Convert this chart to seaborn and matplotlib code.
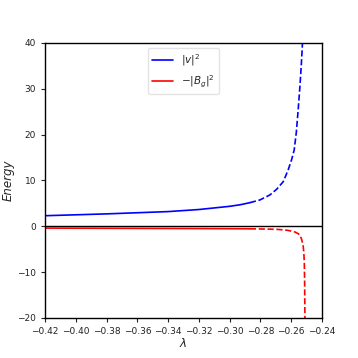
import matplotlib
matplotlib.use("Agg")
import matplotlib.pyplot as plt
import seaborn as sns

sns.set_style("white")
plt.rcParams['font.family'] = ['DejaVu Sans']

# |v|^2 (blue), solid branch then dashed branch
v_solid_x = [-0.42, -0.40, -0.38, -0.36, -0.34, -0.32, -0.30, -0.293, -0.2868]
v_solid_y = [2.3, 2.5, 2.7, 2.95, 3.2, 3.65, 4.35, 4.7, 5.15]
v_dash_x = [-0.2868, -0.2803, -0.2738, -0.2694, -0.2651, -0.2619, -0.2597,
            -0.2580, -0.2566, -0.2554, -0.2543, -0.2534, -0.2529, -0.2526, -0.2524]
v_dash_y = [5.15, 5.74, 6.83, 8.07, 9.73, 12.3, 14.5,
            16.6, 20.5, 25.4, 30.3, 35.0, 38.0, 40.0, 43.0]

# -|B_g|^2 (red), solid branch then dashed branch
b_solid_x = [-0.42, -0.40, -0.38, -0.36, -0.34, -0.32, -0.30, -0.2868]
b_solid_y = [-0.40, -0.42, -0.44, -0.46, -0.48, -0.50, -0.53, -0.55]
b_dash_x = [-0.2868, -0.275, -0.268, -0.262, -0.2575, -0.2555, -0.2543, -0.2532,
            -0.2522, -0.2517, -0.2514, -0.2512, -0.2511, -0.2510, -0.2509]
b_dash_y = [-0.55, -0.62, -0.7, -0.9, -1.25, -1.6, -1.9, -2.8,
            -4.1, -5.9, -8.0, -12.0, -16.0, -20.0, -24.0]

fig = plt.figure(figsize=(3.58, 3.58), dpi=100)
ax = fig.add_axes([0.126, 0.112, 0.773, 0.768])

ax.axhline(0, color="black", lw=1.0, zorder=1)

sns.lineplot(x=v_solid_x, y=v_solid_y, ax=ax, color="blue", lw=1.2,
             label=r"$|v|^2$", sort=False)
sns.lineplot(x=v_dash_x, y=v_dash_y, ax=ax, color="blue", lw=1.2,
             linestyle="--", sort=False)
sns.lineplot(x=b_solid_x, y=b_solid_y, ax=ax, color="red", lw=1.2,
             label=r"$-|B_g|^2$", sort=False)
sns.lineplot(x=b_dash_x, y=b_dash_y, ax=ax, color="red", lw=1.2,
             linestyle="--", sort=False)

ax.set_xlim(-0.42, -0.24)
ax.set_ylim(-20, 40)
ax.set_xticks([-0.42, -0.40, -0.38, -0.36, -0.34, -0.32, -0.30, -0.28, -0.26, -0.24])
ax.set_xticklabels(["−0.42", "−0.40", "−0.38", "−0.36", "−0.34", "−0.32",
                    "−0.30", "−0.28", "−0.26", "−0.24"])
ax.set_yticks([-20, -10, 0, 10, 20, 30, 40])
ax.tick_params(axis="both", labelsize=6.5, length=3, width=0.8, direction="out",
               bottom=True, left=True, colors="#222222", labelcolor="#222222")
for s in ax.spines.values():
    s.set_color("black")
    s.set_linewidth(1.0)

ax.set_xlabel(r"$\lambda$", fontsize=8.5, labelpad=1)
ax.set_ylabel("Energy", fontsize=8.5, fontstyle="italic", labelpad=2)

leg = ax.legend(loc="upper center", fontsize=7.5, frameon=True)
leg.get_frame().set_edgecolor("#dddddd")

fig.savefig("out.png", dpi=100)
